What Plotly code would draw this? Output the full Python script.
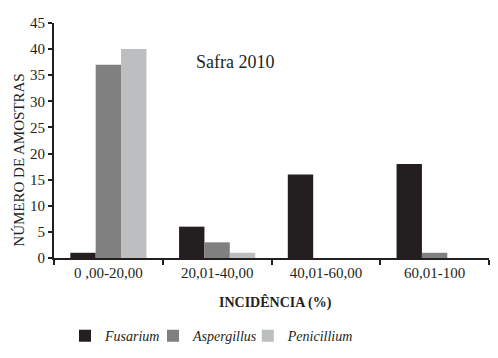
import plotly.graph_objects as go

categories = ["0 ,00-20,00", "20,01-40,00", "40,01-60,00", "60,01-100"]
fusarium = [1, 6, 16, 18]
aspergillus = [37, 3, 0, 1]
penicillium = [40, 1, 0, 0]
series_names = ["Fusarium", "Aspergillus", "Penicillium"]
series_colors = ["#231f20", "#808080", "#bcbec0"]
y_ticks = [0, 5, 10, 15, 20, 25, 30, 35, 40, 45]

FONT = "Liberation Serif"
TXT = "#231f20"

legend_ids = ["legend", "legend2", "legend3"]
legend_x = [0.0253, 0.2276, 0.4455]

fig = go.Figure()
for name, vals, col, lid in zip(series_names, [fusarium, aspergillus, penicillium],
                                series_colors, legend_ids):
    fig.add_trace(go.Bar(
        x=categories, y=vals, name="<i>" + name + "</i>", legend=lid,
        marker=dict(color=col, line=dict(width=0)),
    ))

legend_style = dict(orientation="h", xanchor="left", y=-0.333, yanchor="middle",
                    font=dict(family=FONT, size=14, color=TXT), itemwidth=30,
                    bgcolor="rgba(0,0,0,0)")

# the page body adds an 8px offset, so margins are compensated
fig.update_layout(
    width=498, height=358,
    margin=dict(l=46, r=17, t=15, b=108, autoexpand=False),
    paper_bgcolor="white", plot_bgcolor="white",
    font=dict(family=FONT, color=TXT, size=15),
    barmode="group", bargap=0.30, bargroupgap=0,
    showlegend=True,
    legend=dict(x=legend_x[0], **legend_style),
    legend2=dict(x=legend_x[1], **legend_style),
    legend3=dict(x=legend_x[2], **legend_style),
    xaxis=dict(
        automargin=False,
        showline=True, linecolor=TXT, linewidth=2,
        ticks="outside", tickson="boundaries", ticklen=5, tickwidth=2, tickcolor=TXT,
        showgrid=False, tickfont=dict(size=15),
    ),
    yaxis=dict(
        automargin=False,
        range=[0, 45], tickvals=y_ticks, showline=True, linecolor=TXT, linewidth=2,
        ticks="outside", ticklen=4, tickwidth=2, tickcolor=TXT,
        showgrid=False, zeroline=False, tickfont=dict(size=15),
    ),
    annotations=[
        dict(text="Safra 2010", x=0.416, y=0.833, xref="paper", yref="paper",
             xanchor="center", yanchor="middle",
             showarrow=False, font=dict(size=18, family=FONT, color=TXT)),
        dict(text="<b>INCIDÊNCIA (%)</b>", x=0.51, y=-0.19, xref="paper", yref="paper",
             xanchor="center", yanchor="middle",
             showarrow=False, font=dict(size=14, family=FONT, color=TXT)),
        dict(text="NÚMERO DE AMOSTRAS", x=-0.08, y=0.415, xref="paper", yref="paper",
             xanchor="center", yanchor="middle", textangle=-90,
             showarrow=False, font=dict(size=15, family=FONT, color=TXT)),
    ],
)

fig.write_html("out.html")
